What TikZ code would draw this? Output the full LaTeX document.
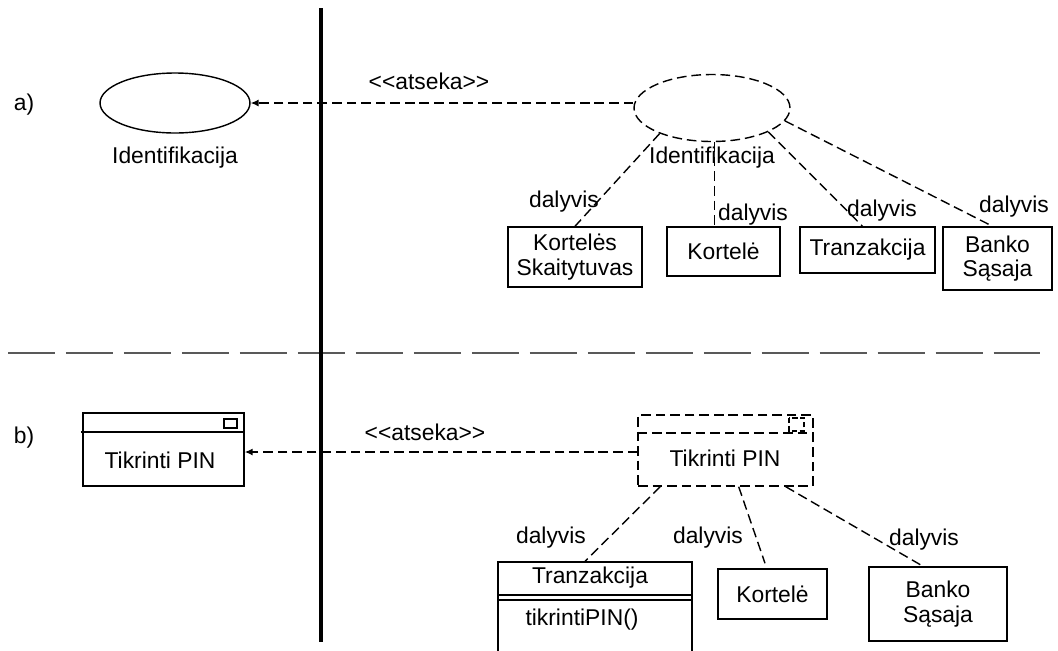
\documentclass[tikz,border=0pt]{standalone}
\usepackage{fontspec}
\setmainfont{Liberation Sans}
\usetikzlibrary{arrows.meta,shapes.geometric}
\begin{document}
\begin{tikzpicture}[x=0.02cm, y=-0.02cm,
    font=\fontsize{13pt}{14pt}\selectfont,
    usecase/.style ={ellipse, draw, line width=0.8pt, inner sep=0pt, minimum width=30mm, minimum height=12mm},
    part/.style ={rectangle, draw, line width=0.85pt, inner sep=1pt, align=center},
    dep/.style ={line width=0.8pt, dash pattern=on 5.5pt off 2.8pt},
    trace/.style ={dep, -{Latex[length=4.5pt,width=4pt]}}]
   \useasboundingbox (0,0) rectangle (1058,650);
   \clip (0,0) rectangle (1058,650);
   % a)
   \node (la) at (24,105) {a)};
   \node[usecase] (idA) at (175,103) {};
   \node (idAtxt) at (175,158) {Identifikacija};
   \node[usecase, dep, minimum width=31.2mm, minimum height=13.4mm] (idB) at (712,108) {};
   \node (idBtxt) at (712,158) {Identifikacija};
   \node[part, minimum width=26.8mm, minimum height=12mm] (ks) at (575,257) {Kortelės\\Skaitytuvas};
   \node[part, minimum width=22.6mm, minimum height=9.8mm] (kort) at (723.5,251.5) {Kortelė};
   \node[part, minimum width=27mm, minimum height=9.2mm] (tranz) at (867.5,250) {Tranzakcija};
   \node[part, minimum width=21.8mm, minimum height=12.6mm] (banko) at (997.5,258.5) {Banko\\Sąsaja};
   \draw[trace] (idA.east -| idB.west) -- (idA.east);
   \node (atsA) at (429,81) {{<}{<}atseka{>}{>}};
   \draw[dep] (idB.-154.7) -- (ks.north);
   \draw[dep] (idB.-86) -- (idB.-86 |- kort.north);
   \draw[dep] (idB.-23) -- ([xshift=-1mm]tranz.north);
   \draw[dep] (idB.-10.6) -- ([xshift=-1mm]banko.north);
   \node (dA1) at (564,202) {dalyvis};
   \node (dA2) at (753,215) {dalyvis};
   \node (dA3) at (882,211) {dalyvis};
   \node (dA4) at (1014,207) {dalyvis};
   % separators
   \draw[black!65, line width=0.75pt, dash pattern=on 26.7pt off 6.3pt] (8,353) -- (1040,353);
   \draw[line width=2.3pt] (321,8) -- (321,642);
   % b)
   \node (lb) at (24,438) {b)};
   \node[part, minimum width=32.2mm, minimum height=14.6mm] (pinA) at (163.5,449.5) {};
   \draw[line width=0.85pt] (81,432) -- (pinA.east |- 0,432);
   \draw[line width=0.85pt] (224,419) rectangle (237,428);
   \node (pinAtxt) at (160,460) {Tikrinti PIN};
   \node[part, dep, minimum width=35mm, minimum height=14.2mm] (pinB) at (725.5,450.5) {};
   \draw[dep] (pinB.west |- 0,433) -- (pinB.east |- 0,433);
   \draw[dep, dash pattern=on 3pt off 1.5pt] (789,418) rectangle (804,431);
   \node (pinBtxt) at (725,458) {Tikrinti PIN};
   \draw[trace] (pinB.west |- 0,452) -- (pinA.east |- 0,452);
   \node (atsB) at (425,432) {{<}{<}atseka{>}{>}};
   \node[part, minimum width=38.8mm, minimum height=19.6mm] (tranzB) at (595,611) {};
   \node (tranzBtxt) at (590,578) {Tranzakcija};
   \draw[line width=0.85pt] (497,595) -- (693,595);
   \draw[line width=0.85pt] (497,600) -- (693,600);
   \node (metB) at (582,620) {tikrintiPIN()};
   \node[part, minimum width=21.8mm, minimum height=10mm] (kortB) at (772.5,594) {Kortelė};
   \node[part, minimum width=27.6mm, minimum height=14.8mm] (bankoB) at (938,604) {Banko\\Sąsaja};
   \draw[dep] (pinB.-151.5) -- ([xshift=-2mm]tranzB.north);
   \draw[dep] (pinB.-70.6) -- ([xshift=-1.5mm,yshift=1mm]kortB.north);
   \draw[dep] (pinB.-31.7) -- ([xshift=-3mm]bankoB.north);
   \node (dB1) at (551,538) {dalyvis};
   \node (dB2) at (708,538) {dalyvis};
   \node (dB3) at (924,540) {dalyvis};
\end{tikzpicture}
\end{document}
